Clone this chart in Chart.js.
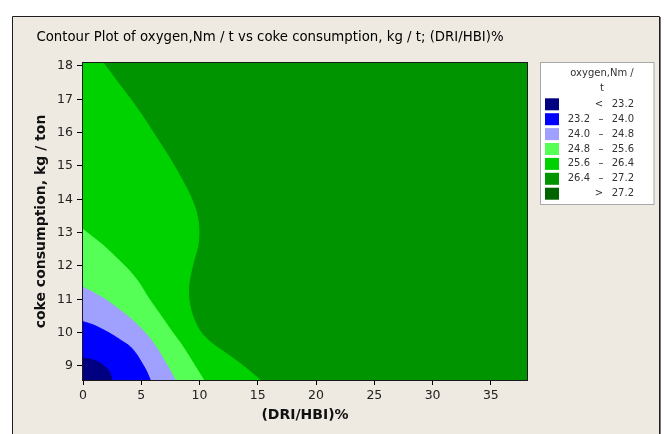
<!DOCTYPE html>
<html>
<head>
<meta charset="utf-8">
<script src="https://cdn.jsdelivr.net/npm/chart.js@4.4.1/dist/chart.umd.min.js"></script>
<style>
  html, body { margin: 0; padding: 0; background: #ffffff; }
  #wrap { width: 664px; height: 434px; }
</style>
</head>
<body>
<div id="wrap"><canvas id="c" width="664" height="434"></canvas></div>
<script>
// Axis ranges and ticks
const xBounds = [0, 38.1];
const yBounds = [8.58, 18.09];
const xTicks = [0, 5, 10, 15, 20, 25, 30, 35];
const yTicks = [9, 10, 11, 12, 13, 14, 15, 16, 17, 18];

// Contour levels of oxygen, Nm / t
const levels = [23.2, 24.0, 24.8, 25.6, 26.4, 27.2];

// Contour lines as [DRI/HBI %, coke consumption kg/ton], running from the
// left/top edge down to the bottom edge (ends run slightly past the frame)
const contour23_2 = [[-0.5, 9.26], [0, 9.24], [0.9, 9.18], [1.6, 9.06], [2.1, 8.9], [2.35, 8.76], [2.48, 8.58], [2.55, 8.35]];
const contour24_0 = [[-0.5, 10.4], [0, 10.33], [0.9, 10.23], [2.3, 9.98], [3.3, 9.76], [4.05, 9.58], [4.6, 9.35], [4.95, 9.15], [5.4, 8.88], [5.77, 8.58], [6.0, 8.35]];
const contour24_8 = [[-0.5, 11.5], [0, 11.37], [0.9, 11.2], [1.9, 11.0], [3.0, 10.72], [4.0, 10.45], [5.0, 10.12], [5.8, 9.8], [6.5, 9.45], [6.95, 9.18], [7.45, 8.88], [7.9, 8.58], [8.2, 8.35]];
const contour25_6 = [[-0.5, 13.25], [0, 13.1], [0.8, 12.88], [1.8, 12.6], [3.0, 12.2], [4.0, 11.85], [4.8, 11.5], [5.6, 11.05], [6.4, 10.65], [7.0, 10.35], [7.7, 10.0], [8.3, 9.72], [8.9, 9.4], [9.4, 9.12], [9.9, 8.84], [10.35, 8.58], [10.8, 8.35]];
const contour26_4 = [[1.1, 18.4], [1.75, 18.09], [3.0, 17.5], [4.2, 16.95], [5.2, 16.45], [6.4, 15.8], [7.5, 15.2], [8.4, 14.65], [9.15, 14.15], [9.7, 13.65], [9.95, 13.1], [9.85, 12.6], [9.5, 12.15], [9.2, 11.7], [9.05, 11.3], [9.15, 10.85], [9.5, 10.42], [10.1, 10.02], [11.0, 9.7], [12.0, 9.45], [13.2, 9.15], [14.3, 8.85], [15.2, 8.58], [16.0, 8.35]];

// Band colours, lowest band first
const bandColors = ['#000080', '#0000FF', '#A0A0FF', '#55FF55', '#00D200', '#009400', '#006400'];

const FONT = "'DejaVu Sans', sans-serif";
const TITLE = 'Contour Plot of oxygen,Nm / t vs coke consumption, kg / t; (DRI/HBI)%';

// Region on the low side of a contour line: the line itself, closed off
// outside the left and bottom of the plotting range.
function lowSide(contour) {
  const pts = contour.map(([x, y]) => ({ x, y }));
  const outX = xBounds[0] - 5;
  const outY = yBounds[0] - 2;
  const first = pts[0];
  const last = pts[pts.length - 1];
  return [{ x: outX, y: first.y }, ...pts, { x: last.x, y: outY }, { x: outX, y: outY }];
}

function wholeRange() {
  const x0 = xBounds[0] - 5, x1 = xBounds[1] + 5;
  const y0 = yBounds[0] - 2, y1 = yBounds[1] + 2;
  return [{ x: x0, y: y0 }, { x: x1, y: y0 }, { x: x1, y: y1 }, { x: x0, y: y1 }];
}

function band(data, color, tension) {
  return {
    data,
    showLine: true,
    fill: 'shape',
    backgroundColor: color,
    borderColor: color,
    borderWidth: 1,
    pointRadius: 0,
    pointHoverRadius: 0,
    tension,
    clip: 0
  };
}

// first dataset is drawn on top
const datasets = [
  band(lowSide(contour23_2), bandColors[0], 0.3),
  band(lowSide(contour24_0), bandColors[1], 0.3),
  band(lowSide(contour24_8), bandColors[2], 0.3),
  band(lowSide(contour25_6), bandColors[3], 0.3),
  band(lowSide(contour26_4), bandColors[4], 0.3),
  band(wholeRange(), bandColors[5], 0)
];

// Panel background and frame
const panel = {
  id: 'panel',
  beforeDraw(chart) {
    const ctx = chart.ctx;
    ctx.save();
    ctx.fillStyle = '#ffffff';
    ctx.fillRect(0, 0, chart.width, chart.height);
    ctx.fillStyle = '#EEEAE1';
    ctx.fillRect(13, 17, 646, chart.height - 17);
    ctx.strokeStyle = '#1e1e1e';
    ctx.lineWidth = 1;
    ctx.beginPath();
    ctx.moveTo(12.5, chart.height);
    ctx.lineTo(12.5, 16.5);
    ctx.lineTo(659.5, 16.5);
    ctx.lineTo(659.5, chart.height);
    ctx.stroke();
    ctx.strokeStyle = '#777';
    ctx.beginPath();
    ctx.moveTo(660.5, 17);
    ctx.lineTo(660.5, chart.height);
    ctx.stroke();
    ctx.restore();
  }
};

// Frame around the plotting area
const plotFrame = {
  id: 'plotFrame',
  afterDatasetsDraw(chart) {
    const { left, top, right, bottom } = chart.chartArea;
    const ctx = chart.ctx;
    ctx.save();
    ctx.strokeStyle = '#1a1a1a';
    ctx.lineWidth = 1;
    ctx.strokeRect(Math.round(left) - 0.5, Math.round(top) - 0.5, Math.round(right - left) + 1, Math.round(bottom - top) + 1);
    ctx.restore();
  }
};

// Level legend on the right
const levelKey = {
  id: 'levelKey',
  afterDraw(chart) {
    const ctx = chart.ctx;
    ctx.save();
    ctx.fillStyle = '#ffffff';
    ctx.fillRect(540.5, 62.5, 113.5, 142);
    ctx.strokeStyle = '#A8A8A8';
    ctx.lineWidth = 1;
    ctx.strokeRect(540.5, 62.5, 113.5, 142);

    ctx.fillStyle = '#333';
    ctx.font = '10px ' + FONT;
    ctx.textBaseline = 'middle';
    ctx.textAlign = 'center';
    ctx.fillText('oxygen,Nm /', 602, 73);
    ctx.fillText('t', 602, 88);

    const fmt = v => v.toFixed(1);
    for (let i = 0; i < bandColors.length; i++) {
      const cy = 104.3 + i * 14.9;
      ctx.fillStyle = bandColors[i];
      ctx.fillRect(545, cy - 6, 14, 12);
      ctx.fillStyle = '#333';
      if (i === 0) {
        ctx.textAlign = 'center';
        ctx.fillText('<', 599, cy);
        ctx.textAlign = 'right';
        ctx.fillText(fmt(levels[0]), 634, cy);
      } else if (i === bandColors.length - 1) {
        ctx.textAlign = 'center';
        ctx.fillText('>', 599, cy);
        ctx.textAlign = 'right';
        ctx.fillText(fmt(levels[levels.length - 1]), 634, cy);
      } else {
        ctx.textAlign = 'right';
        ctx.fillText(fmt(levels[i - 1]), 590, cy);
        ctx.textAlign = 'center';
        ctx.fillText('\u2013', 601, cy);
        ctx.textAlign = 'right';
        ctx.fillText(fmt(levels[i]), 634, cy);
      }
    }
    ctx.restore();
  }
};

new Chart(document.getElementById('c'), {
  type: 'scatter',
  data: { datasets },
  options: {
    responsive: false,
    animation: false,
    devicePixelRatio: 1,
    events: [],
    layout: { padding: { left: 13, right: 137, top: 17, bottom: 0 } },
    plugins: {
      legend: { display: false },
      tooltip: { enabled: false },
      title: {
        display: true,
        text: TITLE,
        align: 'center',
        color: '#000',
        font: { family: FONT, size: 13.3, weight: 'normal' },
        padding: { top: 12.5, bottom: 17.5 }
      }
    },
    scales: {
      x: {
        type: 'linear',
        min: xBounds[0],
        max: xBounds[1],
        afterBuildTicks: s => { s.ticks = xTicks.map(v => ({ value: v })); },
        afterFit: s => { s.height = 54; },
        ticks: { color: '#222', font: { family: FONT, size: 12.5 }, padding: 3, autoSkip: false, maxRotation: 0 },
        grid: { display: true, drawOnChartArea: false, drawTicks: true, tickLength: 5, tickColor: '#000', color: '#000' },
        border: { display: false },
        title: { display: true, text: '(DRI/HBI)%', color: '#111', font: { family: FONT, size: 14, weight: 'bold' }, padding: { top: 0, bottom: 10.6 } }
      },
      y: {
        type: 'linear',
        min: yBounds[0],
        max: yBounds[1],
        afterBuildTicks: s => { s.ticks = yTicks.map(v => ({ value: v })); },
        afterFit: s => { s.width = 70; },
        ticks: { color: '#222', font: { family: FONT, size: 12.5 }, padding: 4, autoSkip: false },
        grid: { display: true, drawOnChartArea: false, drawTicks: true, tickLength: 6, tickColor: '#000', color: '#000' },
        border: { display: false },
        title: { display: true, text: 'coke consumption, kg / ton', color: '#111', font: { family: FONT, size: 14, weight: 'bold' }, padding: { top: 20.3, bottom: 0 } }
      }
    }
  },
  plugins: [panel, plotFrame, levelKey]
});
</script>
</body>
</html>
